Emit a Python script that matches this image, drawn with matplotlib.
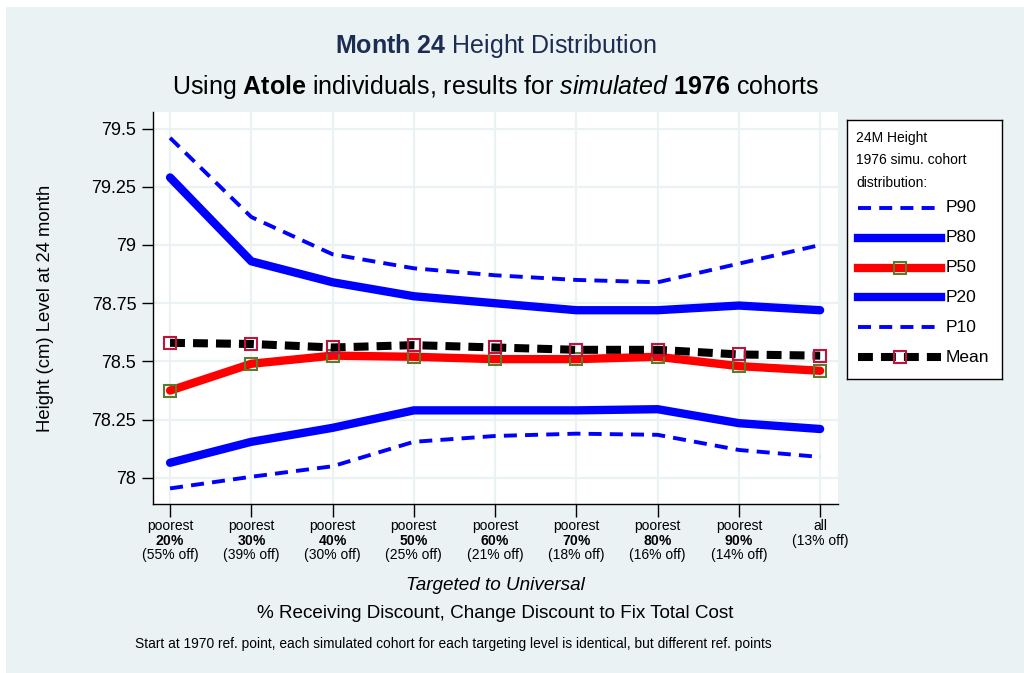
import numpy as np
import matplotlib
matplotlib.use("Agg")
import matplotlib.pyplot as plt
from matplotlib.patches import Rectangle

plt.rcParams['font.family'] = ['Liberation Sans', 'DejaVu Sans']
plt.rcParams['mathtext.fontset'] = 'custom'
plt.rcParams['mathtext.rm'] = 'Liberation Sans'
plt.rcParams['mathtext.it'] = 'Liberation Sans:italic'
plt.rcParams['mathtext.bf'] = 'Liberation Sans:bold'

# data
groups = ["20%", "30%", "40%", "50%", "60%", "70%", "80%", "90%", "all"]
discount = ["55%", "39%", "30%", "25%", "21%", "18%", "16%", "14%", "13%"]

p90 = [79.46, 79.12, 78.96, 78.90, 78.87, 78.85, 78.84, 78.92, 79.00]
p80 = [79.29, 78.93, 78.84, 78.78, 78.75, 78.72, 78.72, 78.74, 78.72]
p50 = [78.375, 78.49, 78.525, 78.52, 78.51, 78.51, 78.52, 78.48, 78.46]
p20 = [78.065, 78.155, 78.215, 78.29, 78.29, 78.29, 78.295, 78.235, 78.21]
p10 = [77.955, 78.005, 78.05, 78.155, 78.18, 78.19, 78.185, 78.12, 78.09]
mean = [78.58, 78.575, 78.56, 78.57, 78.56, 78.55, 78.55, 78.53, 78.525]

yticks = [78, 78.25, 78.5, 78.75, 79, 79.25, 79.5]
ytick_labels = ["78", "78.25", "78.5", "78.75", "79", "79.25", "79.5"]

BG = "#EAF2F3"
BLUE = "#0000FF"
RED = "#FF0000"
GREEN = "#5B7B2D"
CRANBERRY = "#C0143C"

THIN_DASH = (0, (3.35, 2.1))
THICK_DASH = (0, (1.85, 1.0))

W, H = 1024, 673
fig = plt.figure(figsize=(W / 100, H / 100), dpi=100)
fig.patches.append(Rectangle((6 / W, 0), 1 - 6 / W, 1 - 7 / H, transform=fig.transFigure,
                             facecolor=BG, edgecolor="none", zorder=-10))

ax = fig.add_axes([153 / W, 1 - 504 / H, (838 - 153) / W, (504 - 112) / H])
ax.set_facecolor("white")
x = np.arange(len(groups))

# lines
ax.plot(x, p90, color=BLUE, lw=2.8, ls=THIN_DASH, zorder=3)
ax.plot(x, p80, color=BLUE, lw=6, solid_capstyle="round", solid_joinstyle="round", zorder=3)
ax.plot(x, p50, color=RED, lw=6, solid_capstyle="round", solid_joinstyle="round", zorder=3,
        marker="s", markersize=8, markerfacecolor="none", markeredgecolor=GREEN, markeredgewidth=1.5)
ax.plot(x, p20, color=BLUE, lw=6, solid_capstyle="round", solid_joinstyle="round", zorder=3)
ax.plot(x, p10, color=BLUE, lw=2.8, ls=THIN_DASH, zorder=3)
ax.plot(x, mean, color="black", lw=5.8, ls=THICK_DASH, zorder=4,
        marker="s", markersize=8, markerfacecolor="none", markeredgecolor=CRANBERRY, markeredgewidth=1.5)

ax.set_xlim(-0.21, 8.22)
ax.set_ylim(77.888, 79.571)

ax.set_yticks(yticks)
ax.set_yticklabels(ytick_labels, fontsize=13)
xlabels = []
for g, d in zip(groups, discount):
    if g == "all":
        xlabels.append("all\n(" + d + " off)")
    else:
        xlabels.append("poorest\n$\\mathbf{" + g.replace("%", "\\%") + "}$\n(" + d + " off)")
ax.set_xticks(x)
ax.set_xticklabels(xlabels, fontsize=10, linespacing=1.05)

ax.tick_params(axis="y", direction="out", length=7.7, width=1, pad=4.3)
ax.tick_params(axis="x", direction="out", length=9, width=1, pad=2)
ax.grid(True, color=BG, lw=1.6, zorder=0)
ax.set_axisbelow(True)
for s in ["top", "right"]:
    ax.spines[s].set_visible(False)
for s in ["left", "bottom"]:
    ax.spines[s].set_linewidth(1)
    ax.spines[s].set_color("black")

ax.set_ylabel("Height (cm) Level at 24 month", fontsize=13.3)
ax.yaxis.set_label_coords((54 - 153) / 685, 0.5)

cx = 495.5 / W
fig.text(cx, 1 - 46 / H, "$\\mathbf{Month\\ 24}$ Height Distribution", color="#1C2C52",
         fontsize=18, ha="center", va="center")
fig.text(cx, 1 - 87 / H,
         "Using $\\mathbf{Atole}$ individuals, results for $\\mathit{simulated}$ $\\mathbf{1976}$ cohorts",
         color="black", fontsize=18, ha="center", va="center")
fig.text(cx, 1 - 585 / H, "Targeted to Universal", style="italic", fontsize=13.6, ha="center", va="center")
fig.text(cx, 1 - 613 / H, "% Receiving Discount, Change Discount to Fix Total Cost",
         fontsize=13.6, ha="center", va="center")
fig.text(135 / W, 1 - 644 / H,
         "Start at 1970 ref. point, each simulated cohort for each targeting level is identical, but different ref. points",
         fontsize=9.9, ha="left", va="center")

# legend box drawn by hand
lx0, ly0, lw_, lh_ = 846.7, 120, 155, 259
lax = fig.add_axes([lx0 / W, 1 - (ly0 + lh_) / H, lw_ / W, lh_ / H])
lax.set_xlim(0, lw_)
lax.set_ylim(lh_, 0)
lax.set_xticks([])
lax.set_yticks([])
lax.set_facecolor("white")
for s in lax.spines.values():
    s.set_linewidth(1)
    s.set_color("black")
for i, t in enumerate(["24M Height", "1976 simu. cohort", "distribution:"]):
    lax.text(9.3, 18 + 22.3 * i, t, fontsize=10, ha="left", va="center")

entries = [
    ("P90", dict(color=BLUE, lw=2.8, ls=THIN_DASH)),
    ("P80", dict(color=BLUE, lw=6)),
    ("P50", dict(color=RED, lw=6, marker="s", markersize=8, markerfacecolor="none",
                 markeredgecolor=GREEN, markeredgewidth=1.5, markevery=[1])),
    ("P20", dict(color=BLUE, lw=6)),
    ("P10", dict(color=BLUE, lw=2.8, ls=THIN_DASH)),
    ("Mean", dict(color="black", lw=5.8, ls=THICK_DASH, marker="s", markersize=8,
                  markerfacecolor="none", markeredgecolor=CRANBERRY, markeredgewidth=1.5, markevery=[1])),
]
for i, (name, kw) in enumerate(entries):
    yy = 87.7 + 29.9 * i
    lax.plot([11.3, 52.8, 94.3], [yy, yy, yy], **kw)
    lax.text(99.3, yy, name, fontsize=12.5, ha="left", va="center")

fig.savefig("out.png", dpi=100)
